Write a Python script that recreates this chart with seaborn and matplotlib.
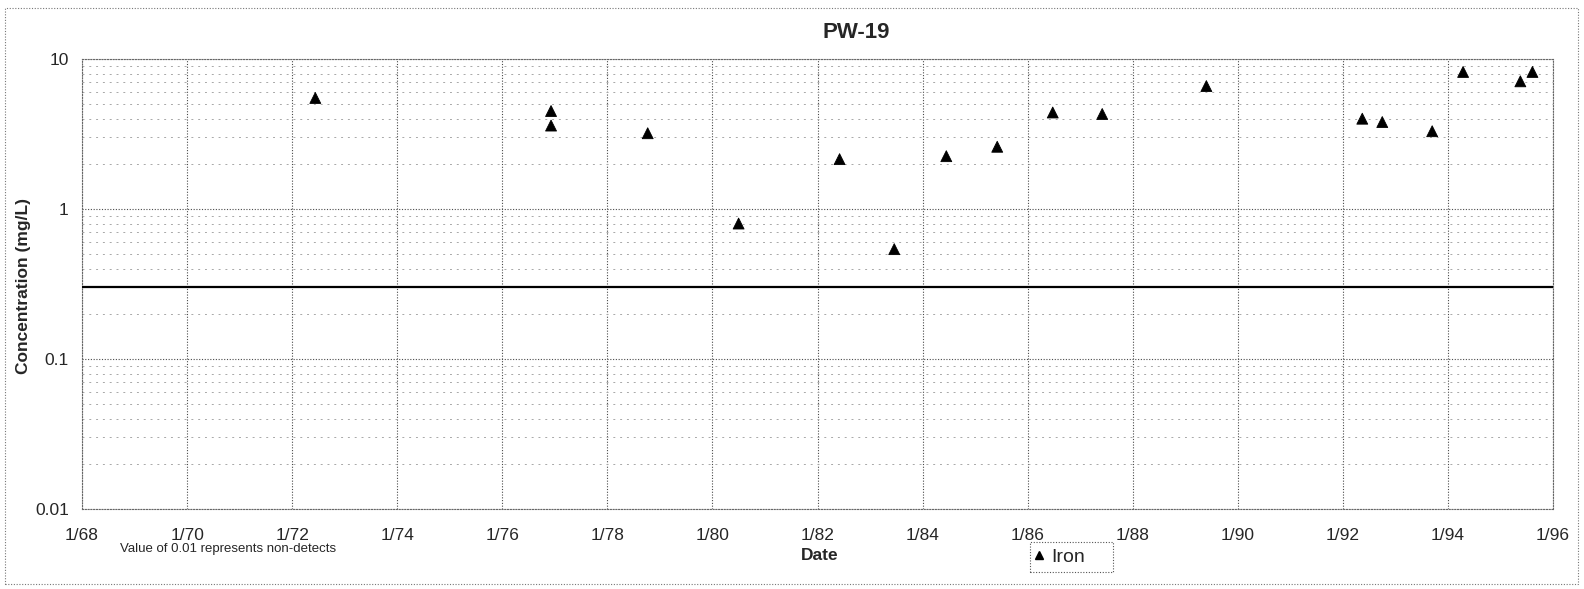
import matplotlib
matplotlib.use("Agg")
import matplotlib.pyplot as plt
import matplotlib.dates as mdates
from matplotlib.ticker import LogLocator, FixedLocator, FixedFormatter, NullFormatter
from matplotlib.patches import Rectangle
import pandas as pd
import seaborn as sns

# Iron sampling results for well PW-19
sample_dates = [
    "1972-06-10", "1976-12-05", "1976-12-05", "1978-10-08", "1980-07-01",
    "1982-06-03", "1983-06-18", "1984-06-14", "1985-06-03", "1986-06-24",
    "1987-06-03", "1989-05-27", "1992-05-15", "1992-10-01", "1993-09-13",
    "1994-04-16", "1995-05-19", "1995-08-11",
]
iron_mg_l = [
    5.5, 4.5, 3.6, 3.2, 0.8,
    2.15, 0.54, 2.25, 2.6, 4.4,
    4.3, 6.6, 4.0, 3.8, 3.3,
    8.2, 7.1, 8.2,
]
standard_mg_l = 0.3
y_ticks = [0.01, 0.1, 1, 10]
y_tick_labels = ["0.01", "0.1", "1", "10"]
x_start, x_end = "1968-01-01", "1996-01-01"

df = pd.DataFrame({"Date": pd.to_datetime(sample_dates),
                   "Concentration": iron_mg_l,
                   "Analyte": "Iron"})

sns.set_style("white")
plt.rcParams["font.family"] = ["Liberation Sans", "DejaVu Sans"]

W, H = 1584, 589
fig = plt.figure(figsize=(W / 100, H / 100), dpi=100)
L, R, T, B = 82, 1553, 59, 509
ax = fig.add_axes([L / W, 1 - B / H, (R - L) / W, (B - T) / H])

major_grid = "#4a4a4a"
minor_grid = "#a8a8a8"
dotted = (0, (1, 1.5))

ax.set_yscale("log")
ax.set_ylim(0.01, 10)
ax.set_xlim(pd.Timestamp(x_start), pd.Timestamp(x_end))

ax.yaxis.set_major_locator(FixedLocator(y_ticks))
ax.yaxis.set_major_formatter(FixedFormatter(y_tick_labels))
ax.yaxis.set_minor_locator(LogLocator(base=10, subs=range(2, 10)))
ax.yaxis.set_minor_formatter(NullFormatter())

ax.xaxis.set_major_locator(mdates.YearLocator(2, month=1, day=1))
ax.xaxis.set_minor_locator(mdates.YearLocator(1, month=1, day=1))
ax.xaxis.set_major_formatter(
    plt.FuncFormatter(lambda v, p: "{}/{:02d}".format(
        mdates.num2date(v).month, mdates.num2date(v).year % 100)))

ax.grid(which="major", axis="both", color=major_grid, linestyle=dotted, linewidth=0.8)
ax.grid(which="minor", axis="y", color=minor_grid, linestyle=(0, (2, 5)), linewidth=0.7)

ax.axhline(standard_mg_l, color="black", linewidth=1.6, zorder=3)

sns.scatterplot(data=df, x="Date", y="Concentration", hue="Analyte",
                palette={"Iron": "black"}, marker="^", s=62,
                edgecolor="black", linewidth=0.6, ax=ax, zorder=4, legend=False)

for sp in ax.spines.values():
    sp.set_linestyle(dotted)
    sp.set_color("#666666")
    sp.set_linewidth(0.8)

ax.tick_params(axis="both", which="major", direction="inout", length=5,
               width=0.8, color="#333333", labelsize=12.5, pad=7)
ax.tick_params(axis="x", which="minor", direction="inout", length=4,
               width=0.7, color="#555555")
ax.tick_params(axis="y", which="minor", length=0)
ax.tick_params(axis="x", pad=11)

ax.set_xlabel("")
ax.set_ylabel("")

fig.text(24 / W, 1 - 286 / H, "Concentration (mg/L)", rotation=90,
         ha="center", va="center", fontsize=12.5, fontweight="bold")
fig.text(820 / W, 1 - 556 / H, "Date", ha="center", va="center",
         fontsize=12.5, fontweight="bold")
fig.text(856 / W, 1 - 33 / H, "PW-19", ha="center", va="center",
         fontsize=16, fontweight="bold")
fig.text(228 / W, 1 - 549 / H, "Value of 0.01 represents non-detects",
         ha="center", va="center", fontsize=9.5)

# legend entry without its own frame; a dotted box is drawn around it
handle = plt.Line2D([], [], marker="^", color="black", linestyle="none",
                    markersize=6)
leg = fig.legend([handle], ["Iron"], loc="center left",
                 bbox_to_anchor=(1031 / W, 1 - 557 / H), frameon=False,
                 fontsize=14, handlelength=0.8, handletextpad=0.25,
                 borderpad=0, borderaxespad=0)
fig.patches.append(Rectangle((1030 / W, 1 - 572 / H), 83 / W, 30 / H,
                             transform=fig.transFigure, fill=False,
                             edgecolor="#555555", linewidth=0.8,
                             linestyle=dotted))

# dotted border around the whole chart area
fig.patches.append(Rectangle((5 / W, 1 - 584 / H), (1578 - 5) / W, (584 - 8) / H,
                             transform=fig.transFigure, fill=False,
                             edgecolor="#777777", linewidth=0.8,
                             linestyle=dotted))

fig.savefig("out.png", dpi=100)
